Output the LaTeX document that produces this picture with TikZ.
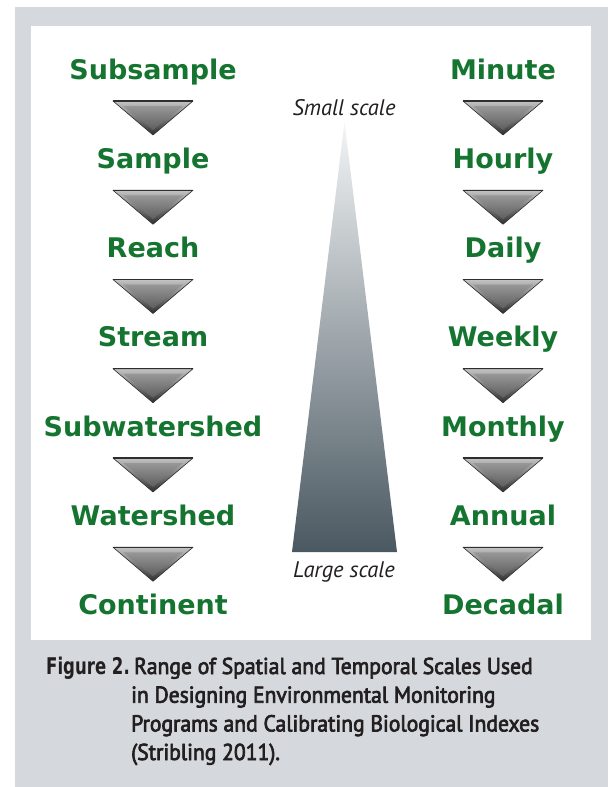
\documentclass[tikz,border=0pt]{standalone}
\usepackage{fontspec}
\usepackage{tikz}
\usetikzlibrary{positioning}
\newfontfamily\labelfont{DejaVu Sans}
\newfontfamily\capfont[FakeStretch=0.94, FakeBold=3]{PT Sans}
\newfontfamily\capboldfont[FakeStretch=0.72]{DejaVu Sans}
\newfontfamily\scalefont{PT Sans}
\definecolor{panelgray}{HTML}{D5D9DD}
\definecolor{labelgreen}{HTML}{157530}
\definecolor{captext}{HTML}{231F20}
\definecolor{tridark}{HTML}{2E2E2E}
\definecolor{trimid}{HTML}{858585}
\definecolor{trilight}{HTML}{C4C4C4}
\definecolor{wedgetop}{HTML}{F3F5F6}
\definecolor{wedgemid}{HTML}{9CA6AD}
\definecolor{wedgebot}{HTML}{4A5861}
\tikzset{
  scalelabel/.style={font=\labelfont\bfseries\fontsize{27}{30}\selectfont, text=labelgreen,
    inner sep=0pt, anchor=base},
  endlabel/.style={font=\scalefont\itshape\fontsize{22.5}{24}\selectfont, text=captext,
    inner sep=0pt, anchor=base},
  capline/.style={font=\capfont\fontsize{23}{28}\selectfont, text=captext,
    inner sep=0pt, anchor=base west}
}
% beveled down-pointing marker, #1 = centre x, #2 = top y
\newcommand{\downmarker}[2]{%
  \shade[top color=trilight, bottom color=tridark]
    ({#1-40},{#2}) -- ({#1+40},{#2}) -- ({#1},{#2+34}) -- cycle;
  \shade[top color=trimid!85!white, bottom color=trimid!70!black]
    ({#1-30},{#2+5}) -- ({#1+30},{#2+5}) -- ({#1},{#2+29}) -- cycle;
  \draw[tridark, line width=0.6pt, line join=round]
    ({#1-40},{#2}) -- ({#1+40},{#2}) -- ({#1},{#2+34}) -- cycle;
  \draw[tridark, line width=1.3pt] ({#1-40},{#2}) -- ({#1+40},{#2});
}

\begin{document}
\begin{tikzpicture}[x=1pt, y=-1pt]
  \useasboundingbox (0,0) rectangle (608,787);
  % frame
  \fill[panelgray] (15,7) rectangle (608,787);
  \fill[white] (31,26) rectangle (591,640);

  % spatial scales (left) and temporal scales (right)
  \foreach \lbl [count=\i] in {Subsample,Sample,Reach,Stream,Subwatershed,Watershed,Continent}
    \node[scalelabel] (sp\i) at (153,{79+(\i-1)*89.25}) {\lbl};
  \foreach \lbl [count=\i] in {Minute,Hourly,Daily,Weekly,Monthly,Annual,Decadal}
    \node[scalelabel] (tm\i) at (503,{79+(\i-1)*89.25}) {\lbl};
  \foreach \i [evaluate=\i as \ty using 101+(\i-1)*89.25] in {1,...,6} {
    \downmarker{153}{\ty}
    \downmarker{503}{\ty}
  }

  % wedge from small to large scale
  \shade[top color=wedgetop, middle color=wedgemid, bottom color=wedgebot]
    (292,552) -- (344.5,122) -- (397,552) -- cycle;
  \node[endlabel] (small) at (344,115) {Small scale};
  \node[endlabel] (large) at (344,577) {Large scale};

  % caption
  \node[font=\capboldfont\bfseries\fontsize{23}{28}\selectfont, text=captext,
    inner sep=0pt, anchor=base west] (fig) at (46,674) {Figure 2.};
  \node[capline] (cap1) at (134,674) {Range of Spatial and Temporal Scales Used};
  \node[capline] (cap2) at (131,702.7) {in Designing Environmental Monitoring};
  \node[capline] (cap3) at (131,731.4) {Programs and Calibrating Biological Indexes};
  \node[capline] (cap4) at (131,760) {(Stribling 2011).};
\end{tikzpicture}
\end{document}
